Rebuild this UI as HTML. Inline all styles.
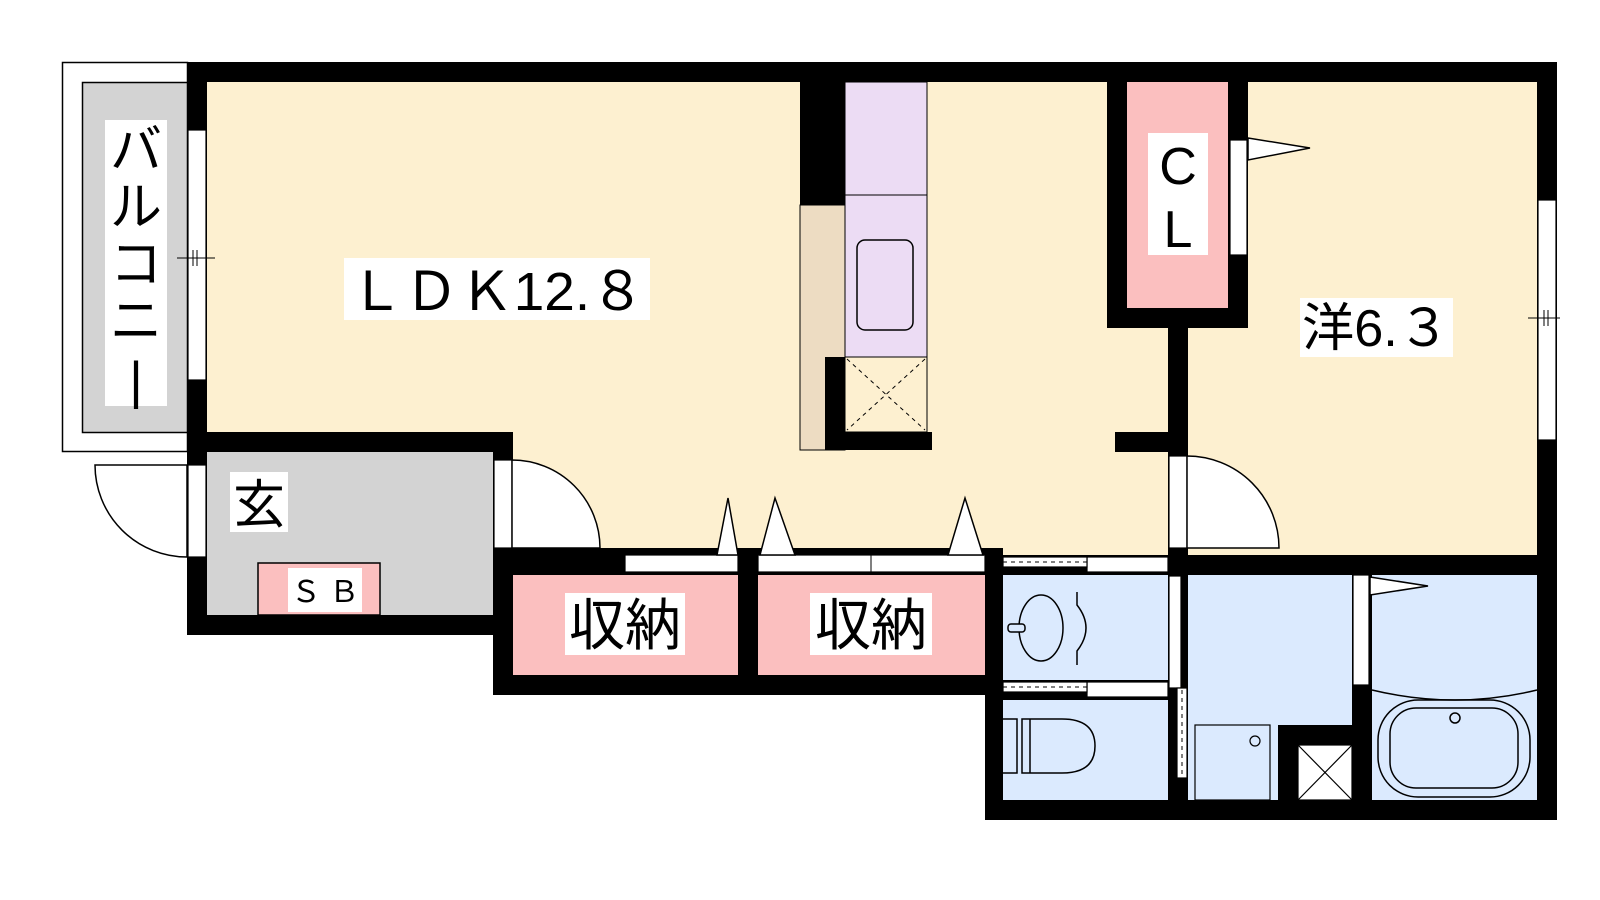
<!DOCTYPE html>
<html><head><meta charset="utf-8"><style>
html,body{margin:0;padding:0;background:#fff}
svg{display:block}
text{font-family:"Liberation Sans","Noto Sans CJK JP",sans-serif;fill:#000}
</style></head><body>
<svg width="1600" height="900" viewBox="0 0 1600 900" xmlns="http://www.w3.org/2000/svg">
<!-- balcony -->
<rect x="62.5" y="62.5" width="125" height="389" fill="#fff" stroke="#000" stroke-width="1.5"/>
<rect x="82.5" y="82.5" width="105" height="350" fill="#d3d3d3" stroke="#000" stroke-width="1.5"/>
<!-- room fills -->
<rect x="207" y="82" width="1330" height="473" fill="#fdf0d0"/>
<rect x="207" y="452" width="286" height="163" fill="#d3d3d3"/>
<rect x="1003" y="575" width="534" height="225" fill="#dbeafe"/>
<!-- closets -->
<rect x="513" y="575" width="225" height="100" fill="#fbbfbf"/>
<rect x="758" y="575" width="227" height="100" fill="#fbbfbf"/>
<rect x="1127" y="82" width="101" height="226" fill="#fbbfbf"/>
<rect x="258" y="563" width="122" height="52" fill="#fbbfbf" stroke="#000" stroke-width="1.5"/>
<!-- kitchen -->
<rect x="800" y="205" width="45" height="245" fill="#eddcc2" stroke="#000" stroke-width="1"/>
<rect x="845" y="82" width="82" height="275" fill="#ecdcf4" stroke="#000" stroke-width="1"/>
<line x1="845" y1="195" x2="927" y2="195" stroke="#000" stroke-width="1"/>
<rect x="857" y="240" width="56" height="90" rx="8" fill="none" stroke="#000" stroke-width="1.5"/>
<rect x="845" y="357" width="82" height="75" fill="#fdf0d0" stroke="#000" stroke-width="1"/>
<path d="M847 359 L925 430 M925 359 L847 430" stroke="#000" stroke-width="1" stroke-dasharray="4,4"/>
<!-- walls -->
<g fill="#000">
<rect x="187" y="62" width="1370" height="20"/>
<rect x="187" y="62" width="20" height="573"/>
<rect x="1537" y="62" width="20" height="758"/>
<rect x="187" y="432" width="326" height="20"/>
<rect x="187" y="615" width="326" height="20"/>
<rect x="493" y="432" width="20" height="263"/>
<rect x="493" y="548" width="492" height="27"/>
<rect x="493" y="675" width="510" height="20"/>
<rect x="738" y="548" width="20" height="147"/>
<rect x="985" y="548" width="18" height="272"/>
<rect x="985" y="800" width="572" height="20"/>
<rect x="985" y="555" width="572" height="20"/>
<rect x="1003" y="680" width="165" height="20"/>
<rect x="800" y="82" width="45" height="123"/>
<rect x="825" y="357" width="20" height="93"/>
<rect x="825" y="432" width="107" height="18"/>
<rect x="1107" y="82" width="20" height="246"/>
<rect x="1107" y="308" width="141" height="20"/>
<rect x="1228" y="82" width="20" height="246"/>
<rect x="1168" y="328" width="20" height="227"/>
<rect x="1115" y="432" width="53" height="20"/>
<rect x="1168" y="575" width="20" height="225"/>
<rect x="1352" y="575" width="20" height="225"/>
<rect x="1278" y="725" width="74" height="75"/>
</g>
<!-- windows -->
<g fill="#fff" stroke="#000" stroke-width="1.2">
<rect x="188" y="130" width="18" height="250"/>
<rect x="188" y="465" width="18" height="92"/>
<rect x="1538" y="200" width="18" height="240"/>
<rect x="1230" y="140" width="17" height="115"/>
<rect x="494" y="460" width="18" height="88"/>
<rect x="1169" y="456" width="18" height="92"/>
<rect x="625" y="555" width="113" height="17"/>
<rect x="758" y="555" width="227" height="17"/>
<rect x="1087" y="557" width="81" height="15"/>
<rect x="1003" y="557" width="84" height="10"/>
<rect x="1087" y="682" width="81" height="15"/>
<rect x="1003" y="682" width="84" height="10"/>
<rect x="1169" y="576" width="12" height="112"/>
<rect x="1177" y="688" width="10" height="90"/>
<rect x="1353" y="575" width="16" height="110"/>
<rect x="1298" y="745" width="54" height="55"/>
<rect x="1195" y="725" width="75" height="75" fill="#dbeafe"/>
</g>
<line x1="1003" y1="562" x2="1087" y2="562" stroke="#000" stroke-dasharray="4,4"/>
<line x1="1003" y1="687" x2="1087" y2="687" stroke="#000" stroke-dasharray="4,4"/>
<line x1="1182" y1="690" x2="1182" y2="776" stroke="#000" stroke-dasharray="4,4"/>
<line x1="871" y1="555" x2="871" y2="572" stroke="#000"/>
<path d="M1298 745 L1352 800 M1352 745 L1298 800" stroke="#000" stroke-width="1.2"/>
<circle cx="1255" cy="741" r="5" fill="none" stroke="#000" stroke-width="1.2"/>
<!-- mid window ticks -->
<path d="M177 258 H215 M193 250 V266 M197 250 V266" stroke="#000" stroke-width="1"/>
<path d="M1528 318 H1560 M1544 310 V326 M1548 310 V326" stroke="#000" stroke-width="1"/>
<!-- doors -->
<g fill="#fff" stroke="#000" stroke-width="1.5">
<path d="M512 460 A88 88 0 0 1 600 548 L512 548 Z"/>
<path d="M187 465 L95 465 A92 92 0 0 0 187 557 Z"/>
<path d="M1187 456 A92 92 0 0 1 1279 548 L1187 548 Z"/>
<path d="M717 555 L728 498 L738 555 Z"/>
<path d="M760 555 L775 498 L795 555 Z"/>
<path d="M948 555 L965 498 L983 555 Z"/>
<path d="M1248 138 L1310 148 L1248 160 Z"/>
<path d="M1370 577 L1428 586 L1370 595 Z"/>
</g>
<!-- wash basin -->
<g fill="none" stroke="#000" stroke-width="1.5">
<ellipse cx="1041" cy="628" rx="22" ry="33"/>
<path d="M1077 592 V605 Q1095 628 1077 651 V665"/>
<rect x="1008" y="624" width="17" height="8" rx="3" fill="#dbeafe"/>
<path d="M1003 719 H1017 V773 H1003 M1022 719 H1062 Q1095 719 1095 746 Q1095 773 1062 773 H1022 Z"/>
<path d="M1030 719 V773"/>
<path d="M1372 690 Q1455 710 1537 690"/>
<rect x="1378" y="700" width="152" height="97" rx="40"/>
<rect x="1390" y="708" width="128" height="80" rx="26"/>
<circle cx="1455" cy="718" r="5"/>
</g>
<!-- labels -->
<g fill="#fff">
<rect x="105" y="120" width="62" height="286"/>
<rect x="344" y="258" width="306" height="62"/>
<rect x="1300" y="298" width="153" height="59"/>
<rect x="230" y="472" width="58" height="60"/>
<rect x="288" y="568" width="74" height="44"/>
<rect x="565" y="593" width="120" height="62"/>
<rect x="810" y="593" width="122" height="62"/>
<rect x="1148" y="133" width="60" height="122"/>
</g>
<text x="136" y="168" font-size="52" text-anchor="middle">バ</text>
<text x="136" y="225" font-size="52" text-anchor="middle">ル</text>
<text x="136" y="282" font-size="52" text-anchor="middle">コ</text>
<text x="136" y="339" font-size="52" text-anchor="middle">ニ</text>
<text x="136" y="398" font-size="52" text-anchor="middle" transform="rotate(0)">|</text>
<text x="497" y="310" font-size="54" text-anchor="middle" textLength="296" lengthAdjust="spacingAndGlyphs">ＬＤＫ12.８</text>
<text x="1376" y="346" font-size="52" text-anchor="middle" textLength="148" lengthAdjust="spacingAndGlyphs">洋6.３</text>
<text x="259" y="523" font-size="52" text-anchor="middle">玄</text>
<text x="325" y="602" font-size="30" text-anchor="middle">Ｓ Ｂ</text>
<text x="625" y="645" font-size="56" text-anchor="middle">収納</text>
<text x="871" y="645" font-size="56" text-anchor="middle">収納</text>
<text x="1178" y="184" font-size="52" text-anchor="middle">C</text>
<text x="1178" y="247" font-size="52" text-anchor="middle">L</text>
</svg>
</body></html>
